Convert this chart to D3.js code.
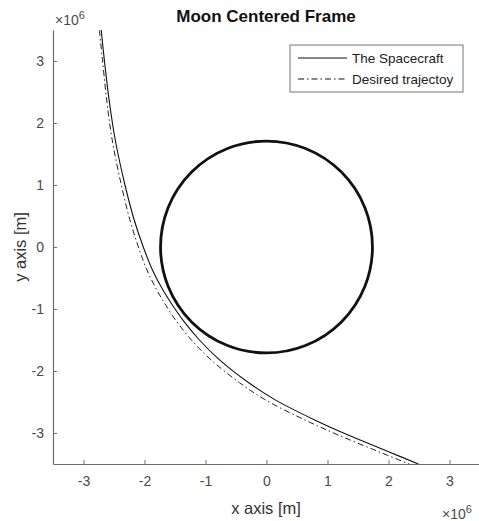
<!DOCTYPE html>
<html>
<head>
<meta charset="utf-8">
<script src="https://cdn.jsdelivr.net/npm/d3@7"></script>
<style>
  html, body { margin: 0; padding: 0; background: #fff; }
  svg { display: block; font-family: "Liberation Sans", Arial, sans-serif; }
</style>
</head>
<body>
<svg id="chart" width="479" height="521"></svg>
<script>
// Positions in units of 1e6 m, moon-centred frame
const spacecraftX = [-2.71, -2.66, -2.58, -2.48, -2.32, -2.17, -2.02, -1.87, -1.70, -1.54, -1.37, -1.10, -0.77, -0.29, 0.15, 0.79, 1.33, 2.02, 2.49];
const spacecraftY = [ 3.50,  3.03,  2.37,  1.73,  1.00,  0.44,  0.00, -0.37, -0.69, -0.94, -1.18, -1.50, -1.82, -2.19, -2.47, -2.79, -3.03, -3.31, -3.50];
const desiredX = [-2.74, -2.69, -2.62, -2.53, -2.38, -2.24, -2.10, -1.96, -1.80, -1.65, -1.49, -1.23, -0.91, -0.44, -0.01, 0.63, 1.17, 1.86, 2.34];
const desiredY = [ 3.50,  3.03,  2.37,  1.73,  1.00,  0.44,  0.00, -0.37, -0.69, -0.94, -1.18, -1.50, -1.82, -2.19, -2.47, -2.79, -3.03, -3.31, -3.50];
const moonRadius = 1.737;
const xTicks = [-3, -2, -1, 0, 1, 2, 3];
const yTicks = [-3, -2, -1, 0, 1, 2, 3];
const seriesNames = ["The Spacecraft", "Desired trajectoy"];
const titleText = "Moon Centered Frame";
const xLabel = "x axis [m]";
const yLabel = "y axis [m]";

const svg = d3.select("#chart");
const plotLeft = 53, plotRight = 480, plotTop = 30, plotBottom = 464;
const x = d3.scaleLinear().domain([-3.5, 3.5]).range([plotLeft, plotRight]);
const y = d3.scaleLinear().domain([-3.5, 3.5]).range([plotBottom, plotTop]);
const axisColor = "#6e6e6e";
const labelColor = "#4a4a4a";

// axes (MATLAB-style, ticks inside)
const gx = svg.append("g").attr("transform", `translate(0,${plotBottom})`)
  .call(d3.axisBottom(x).tickValues(xTicks).tickSizeInner(-4).tickSizeOuter(0).tickPadding(12).tickFormat(d3.format("d")));
const gy = svg.append("g").attr("transform", `translate(${plotLeft},0)`)
  .call(d3.axisLeft(y).tickValues(yTicks).tickSizeInner(-4).tickSizeOuter(0).tickPadding(9).tickFormat(d3.format("d")));
[gx, gy].forEach(g => {
  g.select(".domain").attr("stroke", axisColor).attr("stroke-width", 1.2);
  g.selectAll(".tick line").attr("stroke", axisColor);
  g.selectAll(".tick text").attr("fill", labelColor).attr("font-size", 14)
    .text(d => d < 0 ? "-" + Math.abs(d) : d);
});

// moon
svg.append("circle")
  .attr("cx", x(0)).attr("cy", y(0))
  .attr("r", x(moonRadius) - x(0))
  .attr("fill", "none").attr("stroke", "#111").attr("stroke-width", 2.8);

const line = d3.line().x(d => x(d[0])).y(d => y(d[1])).curve(d3.curveCatmullRom.alpha(0.5));
svg.append("clipPath").attr("id", "plotArea")
  .append("rect").attr("x", plotLeft).attr("y", plotTop - 2)
  .attr("width", plotRight - plotLeft).attr("height", plotBottom - plotTop + 2);

svg.append("path")
  .datum(desiredX.map((v, i) => [v, desiredY[i]]))
  .attr("clip-path", "url(#plotArea)")
  .attr("d", line).attr("fill", "none").attr("stroke", "#222").attr("stroke-width", 1)
  .attr("stroke-dasharray", "6,3,1.5,3");
svg.append("path")
  .datum(spacecraftX.map((v, i) => [v, spacecraftY[i]]))
  .attr("clip-path", "url(#plotArea)")
  .attr("d", line).attr("fill", "none").attr("stroke", "#111").attr("stroke-width", 1.1);

// title and axis labels
svg.append("text").attr("x", 266).attr("y", 22).attr("text-anchor", "middle")
  .attr("font-weight", "bold").attr("font-size", 17).attr("fill", "#111").text(titleText);
svg.append("text").attr("x", 266).attr("y", 514).attr("text-anchor", "middle")
  .attr("font-size", 16.5).attr("fill", "#333").text(xLabel);
svg.append("text").attr("transform", `translate(26,${y(0)}) rotate(-90)`).attr("text-anchor", "middle")
  .attr("font-size", 16.5).attr("fill", "#333").text(yLabel);

// exponent labels
function expLabel(px, py) {
  const t = svg.append("text").attr("x", px).attr("y", py).attr("font-size", 14).attr("fill", labelColor);
  t.append("tspan").text("\u00d710");
  t.append("tspan").attr("dy", -6).attr("font-size", 11).text("6");
}
expLabel(55, 25);
expLabel(442, 519);

// legend
const lg = svg.append("g").attr("transform", "translate(290,45)");
lg.append("rect").attr("width", 173).attr("height", 47).attr("fill", "#fff").attr("stroke", "#777").attr("stroke-width", 1);
seriesNames.forEach((name, i) => {
  const yy = 13 + i * 21;
  lg.append("line").attr("x1", 8).attr("x2", 57).attr("y1", yy).attr("y2", yy)
    .attr("stroke", "#111").attr("stroke-width", 1)
    .attr("stroke-dasharray", i === 1 ? "6,3,1.5,3" : null);
  lg.append("text").attr("x", 62).attr("y", yy + 5).attr("font-size", 13.5).attr("fill", "#222").text(name);
});
</script>
</body>
</html>
